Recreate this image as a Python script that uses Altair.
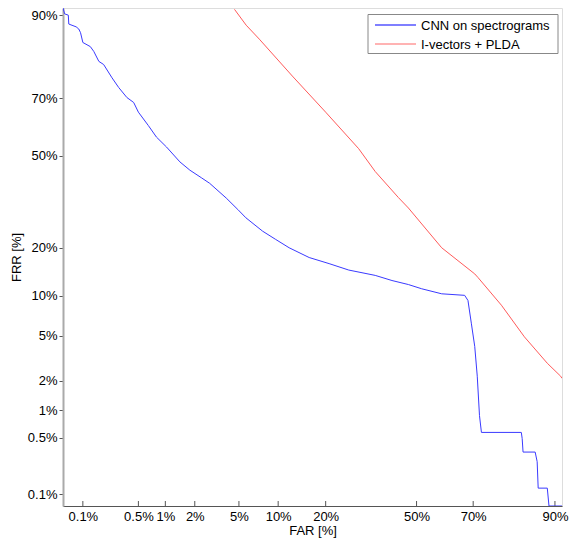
import altair as alt
import pandas as pd
from statistics import NormalDist

_nd = NormalDist()


def probit(p_percent):
    return _nd.inv_cdf(p_percent / 100.0)


# ---- data (percent) ----
cnn_far = [0.053, 0.056, 0.063, 0.064, 0.081, 0.088, 0.093, 0.100, 0.126, 0.14,
           0.163, 0.188, 0.24, 0.29, 0.365, 0.44, 0.50, 0.65, 0.80, 1.03,
           1.42, 1.79, 2.31, 2.77, 3.9, 4.9, 5.7, 7.7, 9.6, 11.9,
           16.0, 20.9, 26.5, 35.1, 41.0, 47.0, 51.9, 59.2, 67.2, 68.3,
           69.4, 70.5, 71.3, 72.0, 72.6, 83.4, 83.6, 83.8, 86.4, 86.8,
           87.0, 88.7, 89.0, 91.1]
cnn_frr = [91.1, 90.2, 90.0, 88.5, 88.0, 87.6, 86.9, 84.9, 84.0, 82.9,
           80.5, 79.7, 76.1, 73.3, 70.2, 68.6, 65.4, 60.8, 56.7, 53.1,
           47.7, 44.7, 42.0, 40.0, 34.9, 31.1, 28.5, 24.5, 22.2, 20.0,
           17.6, 16.2, 14.8, 13.7, 12.7, 11.95, 11.2, 10.35, 10.1, 9.3,
           6.3, 4.07, 2.2, 0.88, 0.575, 0.575, 0.49, 0.34, 0.34, 0.26,
           0.12, 0.12, 0.069, 0.069]

plda_far = [4.59, 5.73, 7.27, 12.5, 20.0, 29.6, 35.1, 43.3, 47.0, 59.2,
            70.5, 71.5, 78.4, 84.1, 88.7, 90.9, 91.1]
plda_frr = [90.9, 88.3, 85.6, 76.6, 65.4, 52.5, 44.2, 35.1, 31.6, 20.0,
            14.0, 13.3, 8.6, 4.9, 2.9, 2.2, 2.1]

series_names = ["CNN on spectrograms", "I-vectors + PLDA"]
series_colors = ["#3a3aff", "#ff5a5a"]
legend_colors = ["#5555ff", "#ff9a9a"]

tick_percents = [0.1, 0.5, 1, 2, 5, 10, 20, 50, 70, 90]
x_domain_pct = [0.053, 91.1]
y_domain_pct = [0.069, 91.1]

# ---- build table ----
rows = []
for i, (a, b) in enumerate(zip(cnn_far, cnn_frr)):
    rows.append({"system": series_names[0], "far": a, "frr": b, "i": i})
for i, (a, b) in enumerate(zip(plda_far, plda_frr)):
    rows.append({"system": series_names[1], "far": a, "frr": b, "i": i})
df = pd.DataFrame(rows)

tick_vals = [probit(t) for t in tick_percents]
xdom = [probit(v) for v in x_domain_pct]
ydom = [probit(v) for v in y_domain_pct]

label_expr = "format(cumulativeNormal(datum.value) * 100, '.2~f') + '%'"
FONT = "Liberation Sans"
W, H = 499, 498

xscale = alt.Scale(domain=xdom, nice=False, zero=False)
yscale = alt.Scale(domain=ydom, nice=False, zero=False)

lines = alt.Chart(df).transform_calculate(
    xp="quantileNormal(datum.far / 100)",
    yp="quantileNormal(datum.frr / 100)",
).mark_line(strokeWidth=1, clip=True).encode(
    x=alt.X("xp:Q", scale=xscale,
            axis=alt.Axis(values=tick_vals, labelExpr=label_expr, ticks=False,
                          grid=False, domainColor="#555555", labelPadding=4,
                          labelFont=FONT, labelFontSize=13, labelColor="#000000",
                          labelOverlap=False, labelFlush=False,
                          title="FAR [%]", titleFont=FONT, titleFontSize=13,
                          titleFontWeight="normal", titleColor="#000000",
                          titlePadding=1)),
    y=alt.Y("yp:Q", scale=yscale,
            axis=alt.Axis(values=tick_vals, labelExpr=label_expr, tickSize=4,
                          tickColor="#555555", grid=False, domainColor="#aaaaaa",
                          domainWidth=2, labelPadding=2,
                          labelFont=FONT, labelFontSize=13, labelColor="#000000",
                          labelOverlap=False, labelFlush=False,
                          title="FRR [%]", titleFont=FONT, titleFontSize=13,
                          titleFontWeight="normal", titleColor="#000000",
                          titlePadding=4)),
    color=alt.Color("system:N",
                    scale=alt.Scale(domain=series_names, range=series_colors),
                    legend=None),
    order="i:Q",
)

tick_df = pd.DataFrame({"t": tick_percents})
xticks = alt.Chart(tick_df).transform_calculate(
    tp="quantileNormal(datum.t / 100)"
).mark_rule(color="#555555", strokeWidth=1).encode(
    x=alt.X("tp:Q", scale=xscale),
    y=alt.value(H),
    y2=alt.value(H - 5),
)

# ---- legend box drawn as marks ----
box = alt.Chart(pd.DataFrame({"k": [0]})).mark_rect(
    fill="#ffffff", stroke="#888888", strokeWidth=1
).encode(x=alt.value(305), x2=alt.value(495), y=alt.value(6.5), y2=alt.value(45.5))

legend_layers = [box]
row_y = [17, 36]
for name, col, yy in zip(series_names, legend_colors, row_y):
    d = pd.DataFrame({"name": [name]})
    legend_layers.append(
        alt.Chart(d).mark_rule(color=col, strokeWidth=1.5).encode(
            x=alt.value(312), x2=alt.value(353), y=alt.value(yy))
    )
    legend_layers.append(
        alt.Chart(d).mark_text(align="left", baseline="middle", font=FONT,
                               fontSize=13, color="#000000").encode(
            x=alt.value(358), y=alt.value(yy + 0.5), text="name:N")
    )

chart = alt.layer(xticks, lines, *legend_layers).properties(
    width=W, height=H,
    autosize=alt.AutoSizeParams(type="none"),
    padding={"left": 55, "top": 0, "right": 7, "bottom": 32},
).configure_view(stroke=None).configure(background="#ffffff")

chart.save("out.html", embed_options={"renderer": "svg", "actions": False})
